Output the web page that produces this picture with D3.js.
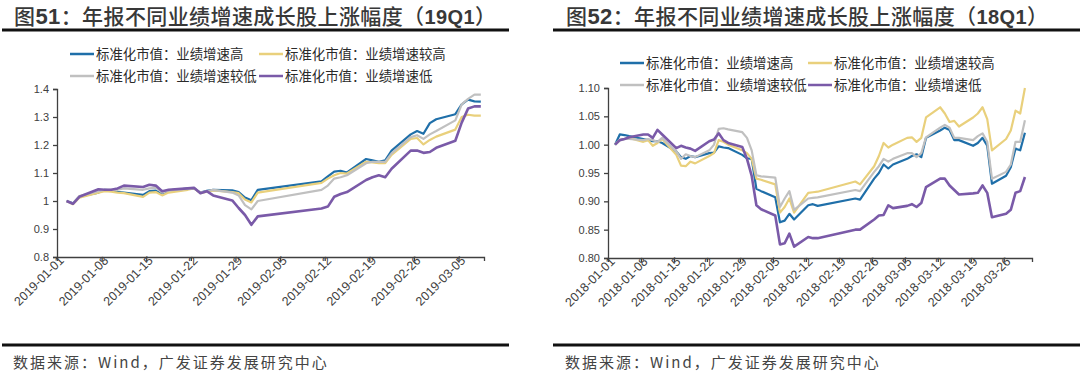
<!DOCTYPE html>
<html>
<head>
<meta charset="utf-8">
<script src="https://cdn.jsdelivr.net/npm/d3@7/dist/d3.min.js"></script>
<style>
body { margin: 0; background: #fff; }
svg { display: block; }
</style>
</head>
<body>
<div id="chart-area"></div>
<script>
// ---- data: 19Q1 ----
var datesA = ["2019-01-02","2019-01-03","2019-01-04","2019-01-07","2019-01-08","2019-01-09","2019-01-10","2019-01-11","2019-01-14","2019-01-15",
    "2019-01-16","2019-01-17","2019-01-18","2019-01-21","2019-01-22","2019-01-23","2019-01-24","2019-01-25","2019-01-28","2019-01-29",
    "2019-01-30","2019-01-31","2019-02-01","2019-02-11","2019-02-12","2019-02-13","2019-02-14","2019-02-15","2019-02-18","2019-02-19",
    "2019-02-20","2019-02-21","2019-02-22","2019-02-25","2019-02-26","2019-02-27","2019-02-28","2019-03-01","2019-03-04","2019-03-05",
    "2019-03-06","2019-03-07","2019-03-08"];
var highA = [1.000,0.992,1.015,1.030,1.040,1.038,1.033,1.030,1.022,1.035,
    1.037,1.025,1.038,1.044,1.045,1.030,1.036,1.040,1.038,1.032,
    1.012,1.003,1.040,1.070,1.088,1.105,1.108,1.102,1.150,1.145,
    1.140,1.145,1.180,1.238,1.250,1.240,1.278,1.292,1.310,1.345,
    1.362,1.356,1.355];
var higherA = [1.000,0.988,1.012,1.030,1.035,1.033,1.030,1.028,1.015,1.030,
    1.032,1.020,1.030,1.040,1.045,1.028,1.033,1.038,1.032,1.028,
    1.005,0.995,1.030,1.065,1.080,1.092,1.100,1.098,1.140,1.138,
    1.135,1.135,1.165,1.222,1.225,1.202,1.218,1.230,1.255,1.300,
    1.308,1.305,1.305];
var lowerA = [1.000,0.990,1.018,1.035,1.040,1.040,1.040,1.045,1.040,1.045,
    1.048,1.030,1.038,1.043,1.045,1.030,1.035,1.040,1.030,1.020,
    0.985,0.970,1.000,1.040,1.055,1.080,1.085,1.092,1.135,1.140,
    1.140,1.140,1.170,1.228,1.235,1.222,1.238,1.250,1.288,1.345,
    1.365,1.380,1.380];
var lowA = [1.000,0.990,1.015,1.042,1.040,1.040,1.045,1.055,1.050,1.058,
    1.055,1.035,1.040,1.045,1.047,1.028,1.035,1.020,1.002,0.975,
    0.950,0.915,0.945,0.973,0.980,1.015,1.025,1.032,1.075,1.085,
    1.092,1.085,1.115,1.180,1.180,1.172,1.175,1.190,1.215,1.280,
    1.330,1.338,1.338];
var xTicksA = ["2019-01-01","2019-01-08","2019-01-15","2019-01-22","2019-01-29","2019-02-05","2019-02-12","2019-02-19","2019-02-26","2019-03-05"];
var yTicksA = [0.8,0.9,1.0,1.1,1.2,1.3,1.4];

// ---- data: 18Q1 ----
var datesB = ["2018-01-02","2018-01-03","2018-01-04","2018-01-05","2018-01-08","2018-01-09","2018-01-10","2018-01-11","2018-01-12","2018-01-15",
    "2018-01-16","2018-01-17","2018-01-18","2018-01-19","2018-01-22","2018-01-23","2018-01-24","2018-01-25","2018-01-26","2018-01-29",
    "2018-01-30","2018-01-31","2018-02-01","2018-02-02","2018-02-05","2018-02-06","2018-02-07","2018-02-08","2018-02-09","2018-02-12",
    "2018-02-13","2018-02-14","2018-02-22","2018-02-23","2018-02-26","2018-02-27","2018-02-28","2018-03-01","2018-03-02","2018-03-05",
    "2018-03-06","2018-03-07","2018-03-08","2018-03-09","2018-03-12","2018-03-13","2018-03-14","2018-03-15","2018-03-16","2018-03-19",
    "2018-03-20","2018-03-21","2018-03-22","2018-03-23","2018-03-26","2018-03-27","2018-03-28","2018-03-29","2018-03-30"];
var highB = [1.000,1.018,1.017,1.015,1.010,1.008,1.006,1.006,1.003,0.988,
    0.978,0.975,0.980,0.978,0.985,0.986,0.997,0.995,0.994,0.982,
    0.976,0.975,0.922,0.918,0.907,0.863,0.866,0.878,0.868,0.893,
    0.895,0.892,0.905,0.903,0.940,0.950,0.965,0.958,0.965,0.975,
    0.980,0.983,0.978,1.012,1.025,1.030,1.026,1.008,1.008,0.998,
    1.003,1.012,0.998,0.931,0.945,0.960,0.993,0.990,1.021];
var higherB = [1.000,1.008,1.010,1.012,1.005,1.008,0.998,1.003,1.010,0.982,
    0.963,0.962,0.970,0.967,0.980,0.985,1.008,1.005,1.000,0.990,
    0.985,0.975,0.940,0.938,0.930,0.880,0.890,0.905,0.880,0.915,
    0.916,0.917,0.935,0.930,0.962,0.980,1.003,0.995,1.000,1.012,
    1.013,1.005,1.012,1.048,1.066,1.055,1.040,1.042,1.032,1.048,
    1.055,1.066,1.045,0.990,1.010,1.025,1.060,1.055,1.100];
var lowerB = [1.000,1.008,1.010,1.010,1.008,1.010,1.008,1.005,1.012,0.988,
    0.975,0.983,0.980,0.978,0.990,1.000,1.028,1.029,1.027,1.022,
    1.012,0.990,0.946,0.944,0.942,0.890,0.905,0.918,0.885,0.905,
    0.906,0.907,0.920,0.918,0.952,0.962,0.975,0.970,0.975,0.985,
    0.985,0.978,0.985,1.013,1.030,1.035,1.030,1.012,1.012,1.008,
    1.015,1.020,1.005,0.940,0.952,0.965,1.005,1.005,1.043];
var lowB = [1.000,1.008,1.010,1.013,1.018,1.018,1.012,1.026,1.018,0.994,
    0.998,0.995,0.993,0.989,1.006,1.009,1.020,1.008,1.003,0.996,
    0.975,0.945,0.893,0.886,0.875,0.824,0.826,0.843,0.820,0.837,
    0.835,0.835,0.850,0.850,0.868,0.875,0.876,0.893,0.888,0.892,
    0.895,0.890,0.897,0.925,0.940,0.940,0.928,0.920,0.912,0.914,
    0.915,0.928,0.915,0.872,0.878,0.885,0.915,0.918,0.943];
var xTicksB = ["2018-01-01","2018-01-08","2018-01-15","2018-01-22","2018-01-29","2018-02-05","2018-02-12","2018-02-19","2018-02-26","2018-03-05","2018-03-12","2018-03-19","2018-03-26"];
var yTicksB = [0.80,0.85,0.90,0.95,1.00,1.05,1.10];

var seriesNames = ["标准化市值：业绩增速高","标准化市值：业绩增速较高","标准化市值：业绩增速较低","标准化市值：业绩增速低"];
var colours = ["#1f6fa9","#e9d07c","#c0c0c0","#7a5aa8"];

var width = 1080, height = 374;
var cjk = "'Noto Sans CJK SC', sans-serif";
var latin = "'Liberation Sans', Arial, sans-serif";
var parse = d3.timeParse("%Y-%m-%d");

var svg = d3.select("#chart-area").append("svg")
    .attr("width", width)
    .attr("height", height);

function drawPanel(p) {
    var g = svg.append("g");

    // title
    var title = g.append("text")
        .attr("x", p.titleX)
        .attr("y", 24)
        .attr("fill", "#383838")
        .attr("font-family", cjk)
        .attr("font-weight", 500)
        .attr("font-size", "21px")
        .attr("letter-spacing", "0.4px");
    title.append("tspan").text("图");
    title.append("tspan").attr("font-family", latin).attr("font-weight", "bold")
        .attr("font-size", "22px").text(p.num);
    title.append("tspan").text("：年报不同业绩增速成长股上涨幅度（");
    title.append("tspan").attr("font-family", latin).attr("font-weight", "bold")
        .attr("font-size", "20px").text(p.quarter);
    title.append("tspan").text("）");

    g.append("line")
        .attr("x1", p.ruleX1).attr("x2", p.ruleX2)
        .attr("y1", 30).attr("y2", 30)
        .attr("stroke", "#111").attr("stroke-width", 3);
    g.append("line")
        .attr("x1", p.ruleX1).attr("x2", p.ruleX2)
        .attr("y1", 345).attr("y2", 345)
        .attr("stroke", "#111").attr("stroke-width", 3);

    g.append("text")
        .attr("x", p.titleX - 1)
        .attr("y", 368)
        .attr("fill", "#444")
        .attr("font-family", cjk)
        .attr("font-size", "15px")
        .attr("letter-spacing", "2px")
        .text("数据来源：Wind，广发证券发展研究中心");

    // scales
    var x = d3.scaleTime()
        .domain([parse(p.xTicks[0]), d3.timeDay.offset(parse(p.xTicks[0]), p.days)])
        .range([p.left, p.right]);
    var y = d3.scaleLinear()
        .domain([p.yTicks[0], p.yTicks[p.yTicks.length - 1]])
        .range([p.bottom, p.top]);

    // axes
    var leftAxis = d3.axisLeft(y)
        .tickValues(p.yTicks)
        .tickSize(4)
        .tickPadding(4)
        .tickFormat(p.yFormat);
    var ya = g.append("g")
        .attr("transform", "translate(" + p.left + ",0)")
        .call(leftAxis);
    ya.selectAll("text")
        .attr("font-family", latin)
        .attr("font-size", "11px")
        .attr("fill", "#404040");

    var bottomAxis = d3.axisBottom(x)
        .tickValues(p.xTicks.map(parse))
        .tickSize(4)
        .tickFormat(d3.timeFormat("%Y-%m-%d"));
    var xa = g.append("g")
        .attr("transform", "translate(0," + p.bottom + ")")
        .call(bottomAxis);
    xa.selectAll("text")
        .attr("font-family", latin)
        .attr("font-size", "12.5px")
        .attr("fill", "#404040")
        .attr("text-anchor", "end")
        .attr("dy", null)
        .attr("x", 2)
        .attr("y", 8)
        .attr("transform", "rotate(-45)");

    [ya, xa].forEach(function (a) {
        a.select(".domain").attr("stroke", "#404040").attr("stroke-width", 1.3);
        a.selectAll(".tick line").attr("stroke", "#404040").attr("stroke-width", 1.3);
    });

    // lines
    var line = d3.line()
        .x(function (d) { return x(d3.timeHour.offset(parse(d.date), 12)); })
        .y(function (d) { return y(d.value); });

    p.series.forEach(function (vals, i) {
        var pts = p.dates.map(function (d, j) { return { date: d, value: vals[j] }; });
        g.append("path")
            .datum(pts)
            .attr("fill", "none")
            .attr("stroke", colours[i])
            .attr("stroke-width", i == 3 ? 2.6 : 2.2)
            .attr("stroke-linejoin", "round")
            .attr("d", line);
    });

    // legend
    seriesNames.forEach(function (name, i) {
        var lx = p.legendX[i % 2], ly = p.legendY[Math.floor(i / 2)];
        g.append("line")
            .attr("x1", lx).attr("x2", lx + 24)
            .attr("y1", ly).attr("y2", ly)
            .attr("stroke", colours[i]).attr("stroke-width", 2.5);
        g.append("text")
            .attr("x", lx + 26)
            .attr("y", ly)
            .attr("dy", "0.35em")
            .attr("fill", "#2a2a2a")
            .attr("font-family", cjk)
            .attr("font-size", "13.4px")
            .text(name);
    });
}

drawPanel({
    num: "51", quarter: "19Q1", titleX: 14, ruleX1: 2, ruleX2: 509,
    left: 57, right: 484, top: 89, bottom: 257, days: 67,
    xTicks: xTicksA, yTicks: yTicksA,
    yFormat: function (d) { return String(+d.toFixed(1)); },
    dates: datesA, series: [highA, higherA, lowerA, lowA],
    legendX: [70, 259], legendY: [54, 76]
});

drawPanel({
    num: "52", quarter: "18Q1", titleX: 566, ruleX1: 553, ruleX2: 1080,
    left: 608, right: 1032, top: 88, bottom: 258, days: 90,
    xTicks: xTicksB, yTicks: yTicksB,
    yFormat: d3.format(".2f"),
    dates: datesB, series: [highB, higherB, lowerB, lowB],
    legendX: [620, 808], legendY: [63, 85]
});
</script>
</body>
</html>
